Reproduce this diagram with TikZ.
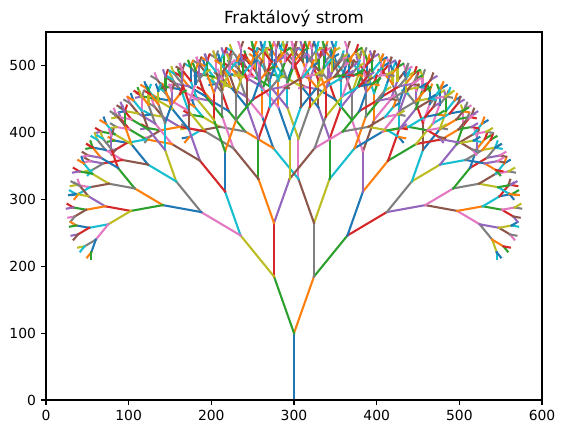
\documentclass[tikz,border=0pt]{standalone}
\usepackage{fontspec}
\setmainfont{DejaVu Sans}
\definecolor{c0}{HTML}{1F77B4}
\definecolor{c1}{HTML}{FF7F0E}
\definecolor{c2}{HTML}{2CA02C}
\definecolor{c3}{HTML}{D62728}
\definecolor{c4}{HTML}{9467BD}
\definecolor{c5}{HTML}{8C564B}
\definecolor{c6}{HTML}{E377C2}
\definecolor{c7}{HTML}{7F7F7F}
\definecolor{c8}{HTML}{BCBD22}
\definecolor{c9}{HTML}{17BECF}
\newcount\colc
\colc=0
% data -> picture units (1 unit = 1 px)
\def\mapx#1{46+0.82667*(#1)}
\def\mapy#1{40+0.66909*(#1)}
\def\branch#1#2#3#4{%
  \ifnum#4>0\relax
    \begingroup
      \pgfmathsetmacro\xe{#1+0.786*#4*cos(#3)}%
      \pgfmathsetmacro\ye{#2+#4*sin(#3)}%
      \edef\cname{c\the\colc}%
      \draw[seg,color=\cname] ({\mapx{#1}},{\mapy{#2}}) -- ({\mapx{\xe}},{\mapy{\ye}});%
      \global\advance\colc by 1\relax
      \ifnum\colc=10 \global\colc=0 \fi
      \edef\brnext{\noexpand\branch{\xe}{\ye}{\the\numexpr#3-20\relax}{\the\numexpr#4-10\relax}%
        \noexpand\branch{\xe}{\ye}{\the\numexpr#3+20\relax}{\the\numexpr#4-10\relax}}%
      \brnext
    \endgroup
  \fi}
\begin{document}
\begin{tikzpicture}[x=0.72pt,y=0.72pt,
  seg/.style={line width=1.5pt,line cap=rect},
  axisline/.style={line width=0.8pt,black},
  ticklab/.style={font=\fontsize{10}{12}\selectfont,inner sep=0pt}]
\useasboundingbox (0,0) rectangle (565,440);
\branch{300}{0}{90}{100}
\draw[axisline] (46,40) rectangle (542,408);
\foreach \k in {0,...,6}{
  \pgfmathsetmacro\xx{46+82.6667*\k}
  \pgfmathtruncatemacro\lab{\k*100}
  \draw[axisline] (\xx,40) -- (\xx,35.14);
  \node[ticklab,anchor=north,name=xt\k] at (\xx,30.28) {\lab};
}
\foreach \k in {0,...,5}{
  \pgfmathsetmacro\yy{40+66.909*\k}
  \pgfmathtruncatemacro\lab{\k*100}
  \draw[axisline] (46,\yy) -- (41.14,\yy);
  \node[ticklab,anchor=east,name=yt\k] at (36.28,\yy) {\lab};
}
\node[font=\fontsize{12}{14}\selectfont,anchor=base,inner sep=0pt,name=title] at (294,416.3) {Fraktálový strom};
\end{tikzpicture}
\end{document}
